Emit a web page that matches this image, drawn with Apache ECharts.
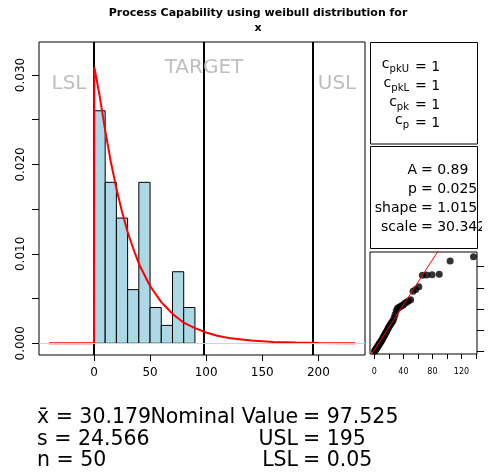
<!DOCTYPE html>
<html><head><meta charset="utf-8">
<script src="https://cdn.jsdelivr.net/npm/echarts@6/dist/echarts.min.js"></script>
<style>html,body{margin:0;padding:0;background:#fff}#c{width:494px;height:476px}</style>
</head><body><div id="c"></div>
<script>
// ---- data ----
const binEdges = [0, 10, 20, 30, 40, 50, 60, 70, 80, 90];
const binDensity = [0.026, 0.018, 0.014, 0.006, 0.018, 0.004, 0.002, 0.008, 0.004];
const curveX = [-40, 0, 0.3, 5, 10, 15, 20, 25, 30, 35, 40, 50, 60, 70, 80, 90, 100, 110, 120, 140, 160, 180, 200, 233];
const curveY = [0, 0, 0.0309, 0.0277, 0.0238, 0.0203, 0.0173, 0.0147, 0.01245, 0.0106, 0.0089, 0.0064, 0.0046, 0.0033, 0.0023, 0.0017, 0.0012, 0.00085, 0.0006, 0.0003, 0.00015, 0.00008, 0.00004, 0.00001];
const specNames = ['LSL', 'TARGET', 'USL'];
const specValues = [0.05, 97.525, 195];
const xTicks = [0, 50, 100, 150, 200];
const yTicks = [0, 0.005, 0.01, 0.015, 0.02, 0.025, 0.03];
const yLabels = [0, 0.01, 0.02, 0.03];
const qqTheoretical = [0.3,1.0,1.6,2.3,3.0,3.7,4.4,5.1,5.8,6.6,7.3,8.1,8.9,9.7,10.6,11.4,12.3,13.2,14.2,15.2,16.2,17.2,18.3,19.4,20.6,21.8,23.0,24.3,25.7,27.1,28.6,30.2,31.8,33.6,35.5,37.4,39.6,41.9,44.3,47.0,50.0,53.3,57.0,61.3,66.2,72.1,79.5,89.4,104.4,136.6];
const qqSample = [0.5,1.2,1.9,2.6,3.3,4.0,4.6,5.4,6.2,7.0,7.9,8.6,9.4,
  10.3,11.2,12.4,13.5,14.6,15.8,17.1,18.3,19.5,
  21.2,22.6,24.0,25.4,26.6,27.9,29.2,
  32.0,35.0,38.5,
  40.9,41.6,42.4,43.2,44.0,45.5,46.6,47.8,48.9,
  56.8,58.6,
  61.2,
  72.0,72.2,72.5,72.8,
  85.4,89.3];
const qqLineX = [-6, 141];
const qqLineY = [-4.7, 151.2];
const qqXTicks = [0, 20, 40, 60, 80, 100, 120, 140];
const qqXLabels = [0, 40, 80, 120];
const qqYTicks = [0, 20, 40, 60, 80];
const capSubs = ['pkU', 'pkL', 'pk', 'p'];
const capValues = ['1', '1', '1', '1'];
const fitNames = ['A', 'p', 'shape', 'scale'];
const fitValues = ['0.89', '0.025', '1.015', '30.342'];
const statNames = ['x\u0304', 's', 'n'];
const statValues = ['30.179', '24.566', '50'];
const specStatNames = ['Nominal Value', 'USL', 'LSL'];
const specStatValues = ['97.525', '195', '0.05'];
const titleLines = ['Process Capability using weibull distribution for', 'x'];

// ---- chart ----
const FF = 'DejaVu Sans';
const chart = echarts.init(document.getElementById('c'));
function txt(x, y, text, size, o) {
  o = o || {};
  const st = {text: text, fontFamily: FF, fontSize: size, fontWeight: o.bold ? 'bold' : 'normal',
    fill: o.color || '#000', align: o.align || 'left', textAlign: o.align || 'left',
    verticalAlign: 'middle', textVerticalAlign: 'middle'};
  if (o.rich) st.rich = o.rich;
  return {type: 'text', x: x, y: y, z: o.z || 10, style: st};
}
const graphic = [];
graphic.push(txt(258, 13.4, titleLines[0], 11, {bold: true, align: 'center'}));
graphic.push(txt(258, 28.4, titleLines[1], 11, {bold: true, align: 'center'}));
// spec labels
const specPx = [69, 204, 337], specPy = [84, 67.5, 84];
specNames.forEach((n, i) => graphic.push(txt(specPx[i], specPy[i], n, 20, {align: 'center', color: '#BEBEBE'})));
// panels
graphic.push({type: 'rect', z: 5, shape: {x: 370.5, y: 42.5, width: 107, height: 101.5}, style: {fill: null, stroke: '#000', lineWidth: 1}});
graphic.push({type: 'rect', z: 5, shape: {x: 370.5, y: 146.5, width: 107, height: 102}, style: {fill: null, stroke: '#000', lineWidth: 1}});
const capY = [67, 86, 105, 123];
capSubs.forEach((s, i) => {
  graphic.push(txt(409, capY[i] - 2, '{c|c}{s|' + s + '}', 14, {align: 'right', rich: {
    c: {fontFamily: FF, fontSize: 14, lineHeight: 16, verticalAlign: 'top'},
    s: {fontFamily: FF, fontSize: 10, lineHeight: 12, verticalAlign: 'top', padding: [7, 0, 0, 0]}
  }}));
  graphic.push(txt(415, capY[i], '= ' + capValues[i], 14));
});
const fitY = [170, 189, 208, 227];
fitNames.forEach((n, i) => {
  graphic.push(txt(417, fitY[i], n, 14, {align: 'right'}));
  graphic.push(txt(421, fitY[i], '= ' + fitValues[i], 14));
});
// clipping covers for the stats box
graphic.push({type: 'rect', z: 20, shape: {x: 366, y: 150, width: 2.5, height: 95}, style: {fill: '#fff'}});
graphic.push({type: 'rect', z: 20, shape: {x: 482, y: 150, width: 12, height: 95}, style: {fill: '#fff'}});
// bottom stats
const rowY = [417.5, 439.5, 460.5];
statNames.forEach((n, i) => graphic.push(txt(37, rowY[i], n + ' = ' + statValues[i], 20.5)));
specStatNames.forEach((n, i) => {
  graphic.push(txt(298, rowY[i], n, 20.5, {align: 'right'}));
  graphic.push(txt(303, rowY[i], '= ' + specStatValues[i], 20.5));
});

const lbl = {fontFamily: FF, color: '#000'};
chart.setOption({
  animation: false,
  backgroundColor: '#fff',
  grid: [
    {left: 39, top: 42, width: 326, height: 313, show: true, borderColor: '#000', borderWidth: 1, backgroundColor: 'transparent'},
    {left: 370, top: 252, width: 107, height: 102, show: true, borderColor: '#000', borderWidth: 1, backgroundColor: 'transparent'}
  ],
  xAxis: [
    {type: 'value', gridIndex: 0, position: 'bottom', min: -49, max: 241.6, splitLine: {show: false}, axisLine: {show: false, onZero: false},
      axisTick: {show: true, length: 6, customValues: xTicks, lineStyle: {color: '#000'}},
      axisLabel: Object.assign({fontSize: 12, margin: 12, customValues: xTicks}, lbl)},
    {type: 'value', gridIndex: 1, position: 'bottom', min: -6, max: 141.4, splitLine: {show: false}, axisLine: {show: false, onZero: false},
      axisTick: {show: true, length: 5, customValues: qqXTicks, lineStyle: {color: '#000'}},
      axisLabel: Object.assign({fontSize: 8, margin: 14, customValues: qqXLabels}, lbl)}
  ],
  yAxis: [
    {type: 'value', gridIndex: 0, position: 'left', min: -0.00131, max: 0.03369, splitLine: {show: false}, axisLine: {show: false, onZero: false},
      axisTick: {show: true, length: 7, customValues: yTicks, lineStyle: {color: '#000'}},
      axisLabel: Object.assign({fontSize: 12, margin: 12, rotate: 90, customValues: yLabels, formatter: v => v.toFixed(3)}, lbl)},
    {type: 'value', gridIndex: 1, position: 'right', min: -2.16, max: 93.8, splitLine: {show: false}, axisLine: {show: false, onZero: false},
      axisTick: {show: true, length: 7, customValues: qqYTicks, lineStyle: {color: '#000'}},
      axisLabel: {show: false}}
  ],
  series: [
    {type: 'custom', xAxisIndex: 0, yAxisIndex: 0, z: 2,
      data: binDensity.map((d, i) => [binEdges[i], binEdges[i + 1], d]),
      encode: {x: [0, 1], y: 2},
      renderItem: function (params, api) {
        const p0 = api.coord([api.value(0), api.value(2)]);
        const p1 = api.coord([api.value(1), 0]);
        return {type: 'rect', shape: {x: p0[0], y: p0[1], width: p1[0] - p0[0], height: p1[1] - p0[1]},
          style: {fill: '#ADD8E6', stroke: '#000', lineWidth: 1}};
      },
      markLine: {silent: true, symbol: 'none', label: {show: false}, animation: false,
        data: [{yAxis: 0, lineStyle: {color: '#D3D3D3', width: 1, type: 'solid'}}]}
    },
    {type: 'line', xAxisIndex: 0, yAxisIndex: 0, z: 4, symbol: 'none', smooth: false,
      data: curveX.map((x, i) => [x, curveY[i]]),
      lineStyle: {color: '#FF0000', width: 2},
      markLine: {silent: true, symbol: 'none', label: {show: false}, animation: false, z: 3,
        data: specValues.map(v => ({xAxis: v, lineStyle: {color: '#000', width: 2, type: 'solid'}}))}
    },
    {type: 'scatter', xAxisIndex: 1, yAxisIndex: 1, z: 3, symbol: 'circle', symbolSize: 7,
      itemStyle: {color: '#000'}, data: qqTheoretical.map((x, i) => [x, qqSample[i]])},
    {type: 'line', xAxisIndex: 1, yAxisIndex: 1, z: 4, symbol: 'none', clip: true,
      data: qqLineX.map((x, i) => [x, qqLineY[i]]), lineStyle: {color: '#FF0000', width: 1}}
  ],
  graphic: graphic
});
</script></body></html>
